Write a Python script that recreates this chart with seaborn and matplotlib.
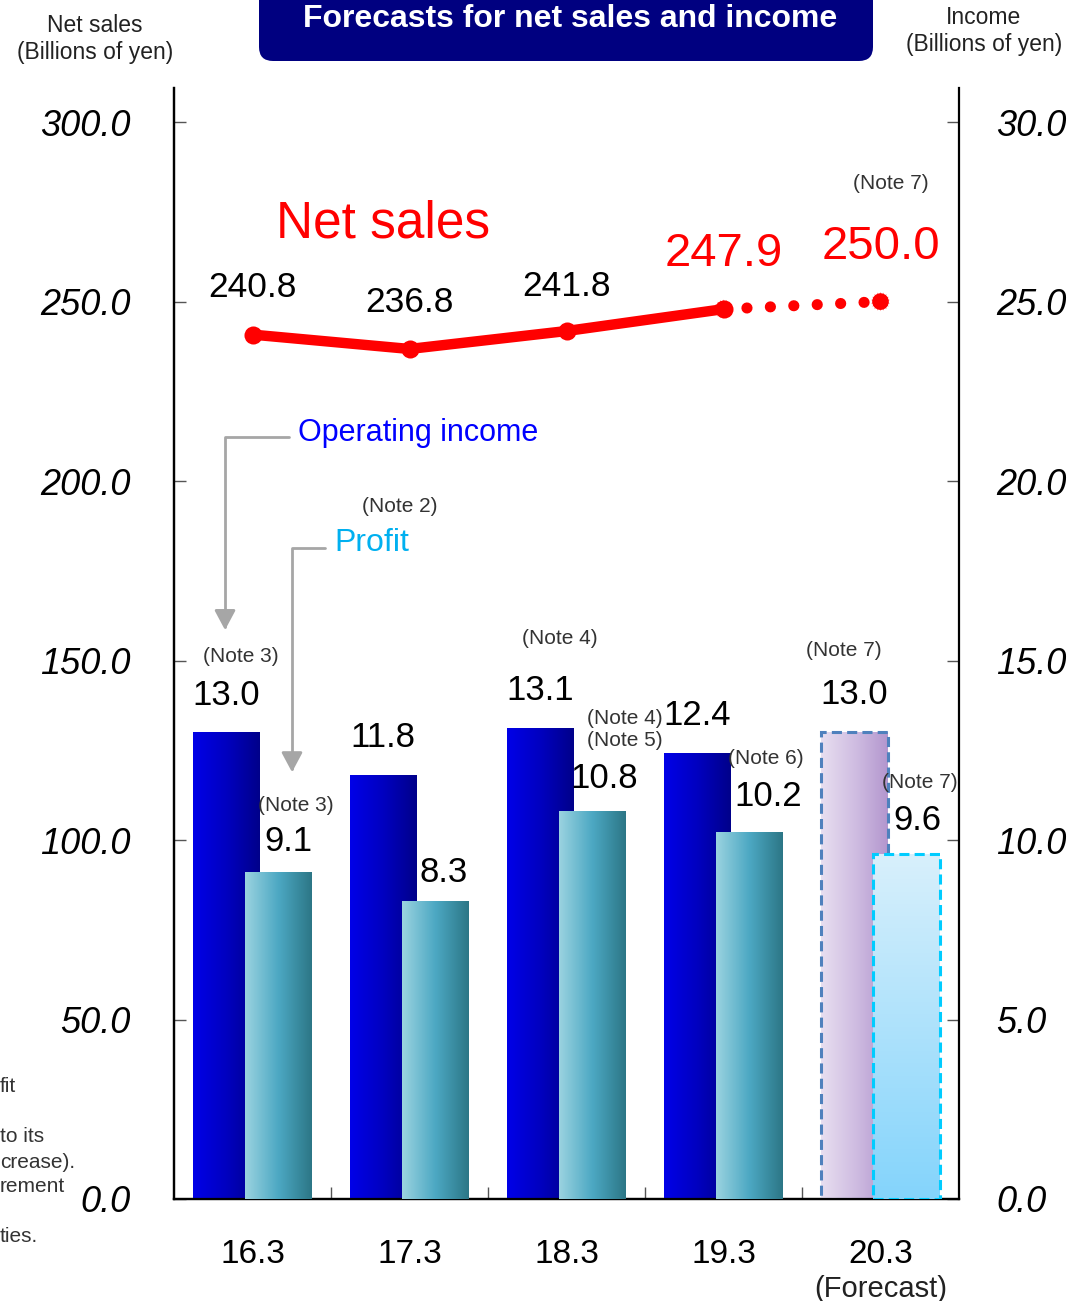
import numpy as np
import pandas as pd
import matplotlib
matplotlib.use("Agg")
import matplotlib.pyplot as plt
from matplotlib.colors import LinearSegmentedColormap
from matplotlib.patches import FancyBboxPatch
import seaborn as sns

# ---- data -------------------------------------------------------------
fiscal_years = ["16.3", "17.3", "18.3", "19.3", "20.3"]
net_sales = [240.8, 236.8, 241.8, 247.9, 250.0]          # billions of yen
operating_income = [13.0, 11.8, 13.1, 12.4, 13.0]        # billions of yen
profit = [9.1, 8.3, 10.8, 10.2, 9.6]                     # billions of yen
op_notes = ["(Note 3)", "", "(Note 4)", "", "(Note 7)"]
profit_notes = ["(Note 3)", "", "(Note 4)\n(Note 5)", "(Note 6)", "(Note 7)"]
sales_notes = ["", "", "", "", "(Note 7)"]
forecast_index = 4
sales_ticks = [0, 50, 100, 150, 200, 250, 300]
income_ticks = [0, 5, 10, 15, 20, 25, 30]
side_note_fragments = ["fit", "to its", "crease).", "rement", "ties."]

# ---- style ------------------------------------------------------------
sns.set_theme(style="white")
plt.rcParams["font.family"] = ["Liberation Sans", "DejaVu Sans"]

W, H = 1070, 1301
fig = plt.figure(figsize=(W / 100, H / 100), dpi=100)


def fx(px):
    return px / W


def fy(py):
    return 1 - py / H


ax = fig.add_axes([fx(174), fy(1199), fx(959) - fx(174), fy(88) - fy(1199)])
ax2 = ax.twinx()

n = len(fiscal_years)
idx = np.arange(n)
shift, bar_w = 0.167, 0.425

bars = pd.DataFrame({
    "pos_op": idx - shift,
    "pos_pr": idx + shift,
    "op": operating_income,
    "pr": profit,
})

sns.barplot(data=bars, x="pos_op", y="op", native_scale=True, width=bar_w,
            ax=ax2, color="#0000CC", errorbar=None, linewidth=0)
sns.barplot(data=bars, x="pos_pr", y="pr", native_scale=True, width=bar_w,
            ax=ax2, color="#4BA9C4", errorbar=None, linewidth=0)

op_patches = ax2.patches[:n]
pr_patches = ax2.patches[n:2 * n]

op_cmap = LinearSegmentedColormap.from_list("op", ["#0000E8", "#0000C0", "#00008A"])
pr_cmap = LinearSegmentedColormap.from_list("pr", ["#9BD3E0", "#4CA8C3", "#2C7686"])
op_fc_cmap = LinearSegmentedColormap.from_list("opf", ["#E8DFF0", "#D0BEE2", "#B396CE"])
pr_fc_cmap = LinearSegmentedColormap.from_list("prf", ["#84D4FB", "#D8F0FC"])


def fill_gradient(patch, cmap, z, vertical=False):
    x0, y0 = patch.get_x(), patch.get_y()
    w, h = patch.get_width(), patch.get_height()
    g = np.linspace(0, 1, 256)
    arr = g.reshape(-1, 1) if vertical else g.reshape(1, -1)
    ax2.imshow(arr, cmap=cmap, extent=[x0, x0 + w, y0, y0 + h], origin="lower",
               aspect="auto", interpolation="bicubic", zorder=z)
    patch.set_facecolor("none")
    patch.set_linewidth(0)


for i in range(n):
    if i == forecast_index:
        fill_gradient(op_patches[i], op_fc_cmap, 2)
        fill_gradient(pr_patches[i], pr_fc_cmap, 3, vertical=True)
    else:
        fill_gradient(op_patches[i], op_cmap, 2)
        fill_gradient(pr_patches[i], pr_cmap, 3)

# dashed outlines for the forecast bars
for p, col, z in [(op_patches[forecast_index], "#4F81BD", 2.5),
                  (pr_patches[forecast_index], "#00CCFF", 3.5)]:
    p.set_edgecolor(col)
    p.set_linewidth(2.2)
    p.set_linestyle((0, (3.3, 1.7)))
    p.set_zorder(z)

# ---- net sales line ---------------------------------------------------
sales = pd.DataFrame({"pos": idx, "sales": net_sales})
actual = sales.iloc[:forecast_index]
plan = sales.iloc[forecast_index - 1:]
sns.lineplot(data=actual, x="pos", y="sales", ax=ax, color="#FF0000",
             linewidth=7.5, marker="o", markersize=13, markeredgewidth=0, zorder=5)
sns.lineplot(data=plan, x="pos", y="sales", ax=ax, color="#FF0000",
             linewidth=8, linestyle=(0, (0.01, 2.1)), dash_capstyle="round", zorder=5)
sns.scatterplot(data=plan, x="pos", y="sales", ax=ax, color="#FF0000",
                marker="o", s=12 ** 2, linewidth=0, edgecolor="none", zorder=6)
sns.scatterplot(data=plan, x="pos", y="sales", ax=ax, color="#FF0000",
                marker=(18, 1, 0), s=14 ** 2, linewidth=0, edgecolor="none", zorder=6)

# ---- axes -------------------------------------------------------------
ax.set_xlim(-0.5, n - 0.5)
ax.set_ylim(0, 309.5)
ax2.set_ylim(0, 30.95)

ax.set_yticks(sales_ticks, [f"{v:.1f}" for v in sales_ticks],
              fontstyle="italic", fontsize=26)
ax2.set_yticks(income_ticks, [f"{v:.1f}" for v in income_ticks],
               fontstyle="italic", fontsize=26)
ax.set_xticks(idx, fiscal_years, fontsize=24)
ax.set_xticks(idx[:-1] + 0.5, minor=True)

ax.tick_params(axis="y", which="major", direction="in", length=8.6, width=1,
               color="#555555", pad=31, left=True, labelcolor="black")
ax2.tick_params(axis="y", which="major", direction="in", length=8.6, width=1,
                color="#555555", pad=27, right=True, labelcolor="black")
ax.tick_params(axis="x", which="major", length=0, pad=29, labelcolor="black")
ax.tick_params(axis="x", which="minor", direction="in", length=8.6, width=1,
               color="#555555", bottom=True)

for a in (ax, ax2):
    a.set_xlabel("")
    a.set_ylabel("")
    a.grid(False)
    a.spines["top"].set_visible(False)
    for s in ("left", "right", "bottom"):
        a.spines[s].set_color("black")
        a.spines[s].set_linewidth(1.6)
ax.spines["right"].set_visible(False)

ax.annotate("(Forecast)", xy=(forecast_index, 0), xycoords=("data", "axes fraction"),
            xytext=(0, -90), textcoords="offset pixels", ha="center", va="center",
            fontsize=21, color="#222222", annotation_clip=False)


# ---- value labels -----------------------------------------------------
def label(axis, x, y, text, dx, dy, size, color="black"):
    if text:
        axis.annotate(text, xy=(x, y), xytext=(dx, dy), textcoords="offset pixels",
                      ha="center", va="center", fontsize=size, color=color,
                      annotation_clip=False, zorder=8)


op_val_off = [(0, 37), (0, 38), (0, 38), (0, 38), (0, 38)]
op_note_off = [(15, 76), (0, 0), (20, 90), (0, 0), (-10, 82)]
pr_val_off = [(10, 31), (8, 29), (11, 33), (18, 36), (11, 34)]
pr_note_off = [(17, 67), (0, 0), (32, 82), (16, 74), (13, 72)]
for i in range(n):
    xo = idx[i] - shift
    xp = idx[i] + shift
    label(ax2, xo, operating_income[i], f"{operating_income[i]:.1f}", *op_val_off[i], 25)
    label(ax2, xo, operating_income[i], op_notes[i], *op_note_off[i], 15, "#333333")
    label(ax2, xp, profit[i], f"{profit[i]:.1f}", *pr_val_off[i], 25)
    label(ax2, xp, profit[i], profit_notes[i], *pr_note_off[i], 15, "#333333")

sales_off = [(0, 47), (0, 46), (0, 45), (0, 55), (0, 55)]
for i in range(n):
    big = i >= forecast_index - 1
    label(ax, idx[i], net_sales[i], f"{net_sales[i]:.1f}", *sales_off[i],
          34 if big else 25.5, "#FF0000" if big else "black")
label(ax, idx[forecast_index], net_sales[forecast_index], sales_notes[forecast_index],
      10, 118, 15, "#333333")

# series names with leader arrows
ax.text(0.831, 271.5, "Net sales", ha="center", va="center", fontsize=37,
        color="#FF0000")
arrow_kw = dict(arrowstyle="-|>,head_length=0.6,head_width=0.32", color="#A6A6A6",
                lw=2, connectionstyle="angle,angleA=0,angleB=90,rad=0",
                shrinkA=4, shrinkB=0, mutation_scale=20)
ax.annotate("Operating income", xy=(-0.175, 158.5), xytext=(0.29, 213.4),
            ha="left", va="center", fontsize=22, color="#0000FF",
            arrowprops=dict(relpos=(0, 0.35), **arrow_kw))
ax.annotate("Profit", xy=(0.2516, 118.9), xytext=(0.519, 182.7),
            ha="left", va="center", fontsize=23, color="#00B0F0",
            arrowprops=dict(relpos=(0, 0.35), **arrow_kw))
ax.text(0.94, 193.0, "(Note 2)", ha="center", va="center", fontsize=15,
        color="#333333")

# ---- header -----------------------------------------------------------
title_box = FancyBboxPatch((259 / 100, (H - 61) / 100), (873 - 259) / 100, 1.0,
                           boxstyle="round,pad=0,rounding_size=0.14",
                           transform=fig.dpi_scale_trans, facecolor="#000080",
                           edgecolor="none")
fig.add_artist(title_box)
fig.text(fx(570), fy(19), "Forecasts for net sales and income", ha="center",
         va="center", fontsize=23, fontweight="bold", color="white")

fig.text(fx(95), fy(25), "Net sales", ha="center", va="center", fontsize=16.5,
         color="#222222")
fig.text(fx(95), fy(53), "(Billions of yen)", ha="center", va="center",
         fontsize=16.5, color="#222222")
fig.text(fx(984), fy(17), "Income", ha="center", va="center", fontsize=16.5,
         color="#222222")
fig.text(fx(984), fy(45), "(Billions of yen)", ha="center", va="center",
         fontsize=16.5, color="#222222")

# trailing fragments of the notes column
for frag, py in zip(side_note_fragments, [1087, 1137, 1162, 1187, 1236]):
    fig.text(0, fy(py), frag, ha="left", va="center", fontsize=15,
             color="#333333")

fig.savefig("out.png", dpi=100)
